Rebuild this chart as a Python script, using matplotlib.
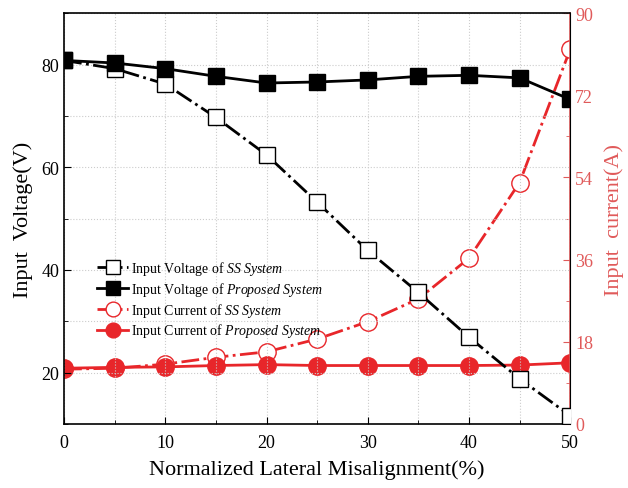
import matplotlib
matplotlib.use("Agg")
import matplotlib.pyplot as plt
from matplotlib.ticker import MultipleLocator

plt.rcParams['font.family'] = ['Liberation Serif', 'DejaVu Serif']
plt.rcParams['mathtext.fontset'] = 'custom'
plt.rcParams['mathtext.it'] = 'Liberation Serif:italic'
plt.rcParams['mathtext.rm'] = 'Liberation Serif'

misalignment = [0, 5, 10, 15, 20, 25, 30, 35, 40, 45, 50]
v_ss = [80.8, 79.2, 76.2, 69.7, 62.4, 53.2, 43.8, 35.6, 26.9, 18.8, 11.6]
v_prop = [80.8, 80.3, 79.2, 77.7, 76.4, 76.6, 77.0, 77.7, 77.9, 77.4, 73.2]
i_ss = [12.0, 12.2, 13.1, 14.6, 15.8, 18.6, 22.4, 27.4, 36.3, 52.9, 82.1]
i_prop = [12.2, 12.4, 12.5, 12.8, 13.0, 12.8, 12.8, 12.8, 12.8, 12.9, 13.4]

labels = [r"Input Voltage of $\mathit{SS\ System}$",
          r"Input Voltage of $\mathit{Proposed\ System}$",
          r"Input Current of $\mathit{SS\ System}$",
          r"Input Current of $\mathit{Proposed\ System}$"]

red = '#e8262a'
axred = '#e05a5a'

fig = plt.figure(figsize=(6.28, 4.89), dpi=100)
ax = fig.add_axes([0.102, 0.131, 0.806, 0.840])
ax2 = ax.twinx()

l1, = ax.plot(misalignment, v_ss, linestyle='-.', color='black', lw=2,
              marker='s', ms=11.5, mfc='white', mec='black', mew=1.0, zorder=3)
l2, = ax.plot(misalignment, v_prop, linestyle='-', color='black', lw=2,
              marker='s', ms=11.5, mfc='black', mec='black', zorder=3)
l3, = ax2.plot(misalignment, i_ss, linestyle='-.', color=red, lw=2,
               marker='o', ms=12.5, mfc='white', mec=red, mew=1.0)
l4, = ax2.plot(misalignment, i_prop, linestyle='-', color=red, lw=2,
               marker='o', ms=12.5, mfc=red, mec=red)

ax.set_xlim(0, 50)
ax.set_ylim(10, 90)
ax2.set_ylim(0, 90)

ax.xaxis.set_major_locator(MultipleLocator(10))
ax.xaxis.set_minor_locator(MultipleLocator(5))
ax.yaxis.set_major_locator(MultipleLocator(20))
ax.yaxis.set_minor_locator(MultipleLocator(10))
ax2.yaxis.set_major_locator(MultipleLocator(18))
ax2.yaxis.set_minor_locator(MultipleLocator(9))

ax.set_axisbelow(True)
ax.grid(True, which='both', linestyle=':', color='#cccccc', lw=0.8)

ax.tick_params(axis='both', which='major', direction='in', length=5, labelsize=13)
ax.tick_params(axis='both', which='minor', direction='in', length=3)
ax.tick_params(axis='x', pad=7)
ax2.tick_params(axis='y', which='major', direction='in', length=5, labelsize=13,
                colors=axred)
ax2.tick_params(axis='y', which='minor', direction='in', length=3, colors=axred)
ax2.spines['right'].set_color(axred)
ax2.spines['right'].set_linewidth(1.2)
for s in ['left', 'top', 'bottom']:
    ax.spines[s].set_linewidth(1.2)
ax2.spines['left'].set_visible(False)
ax2.spines['top'].set_visible(False)
ax2.spines['bottom'].set_visible(False)

ax.set_xlabel('Normalized Lateral Misalignment(%)', fontsize=16, labelpad=6)
ax.set_ylabel('Input  Voltage(V)', fontsize=16, labelpad=6)
ax2.set_ylabel('Input  current(A)', fontsize=16, color=axred, labelpad=8)

leg = ax.legend([l1, l2, l3, l4], labels, loc='upper left',
                bbox_to_anchor=(0.055, 0.415), frameon=False, fontsize=10,
                handlelength=2.2, handletextpad=0.25, labelspacing=0.2,
                borderaxespad=0, markerscale=0.85)
ax.set_zorder(ax2.get_zorder() + 1)
ax.patch.set_visible(False)

fig.savefig('out.png', dpi=100)
